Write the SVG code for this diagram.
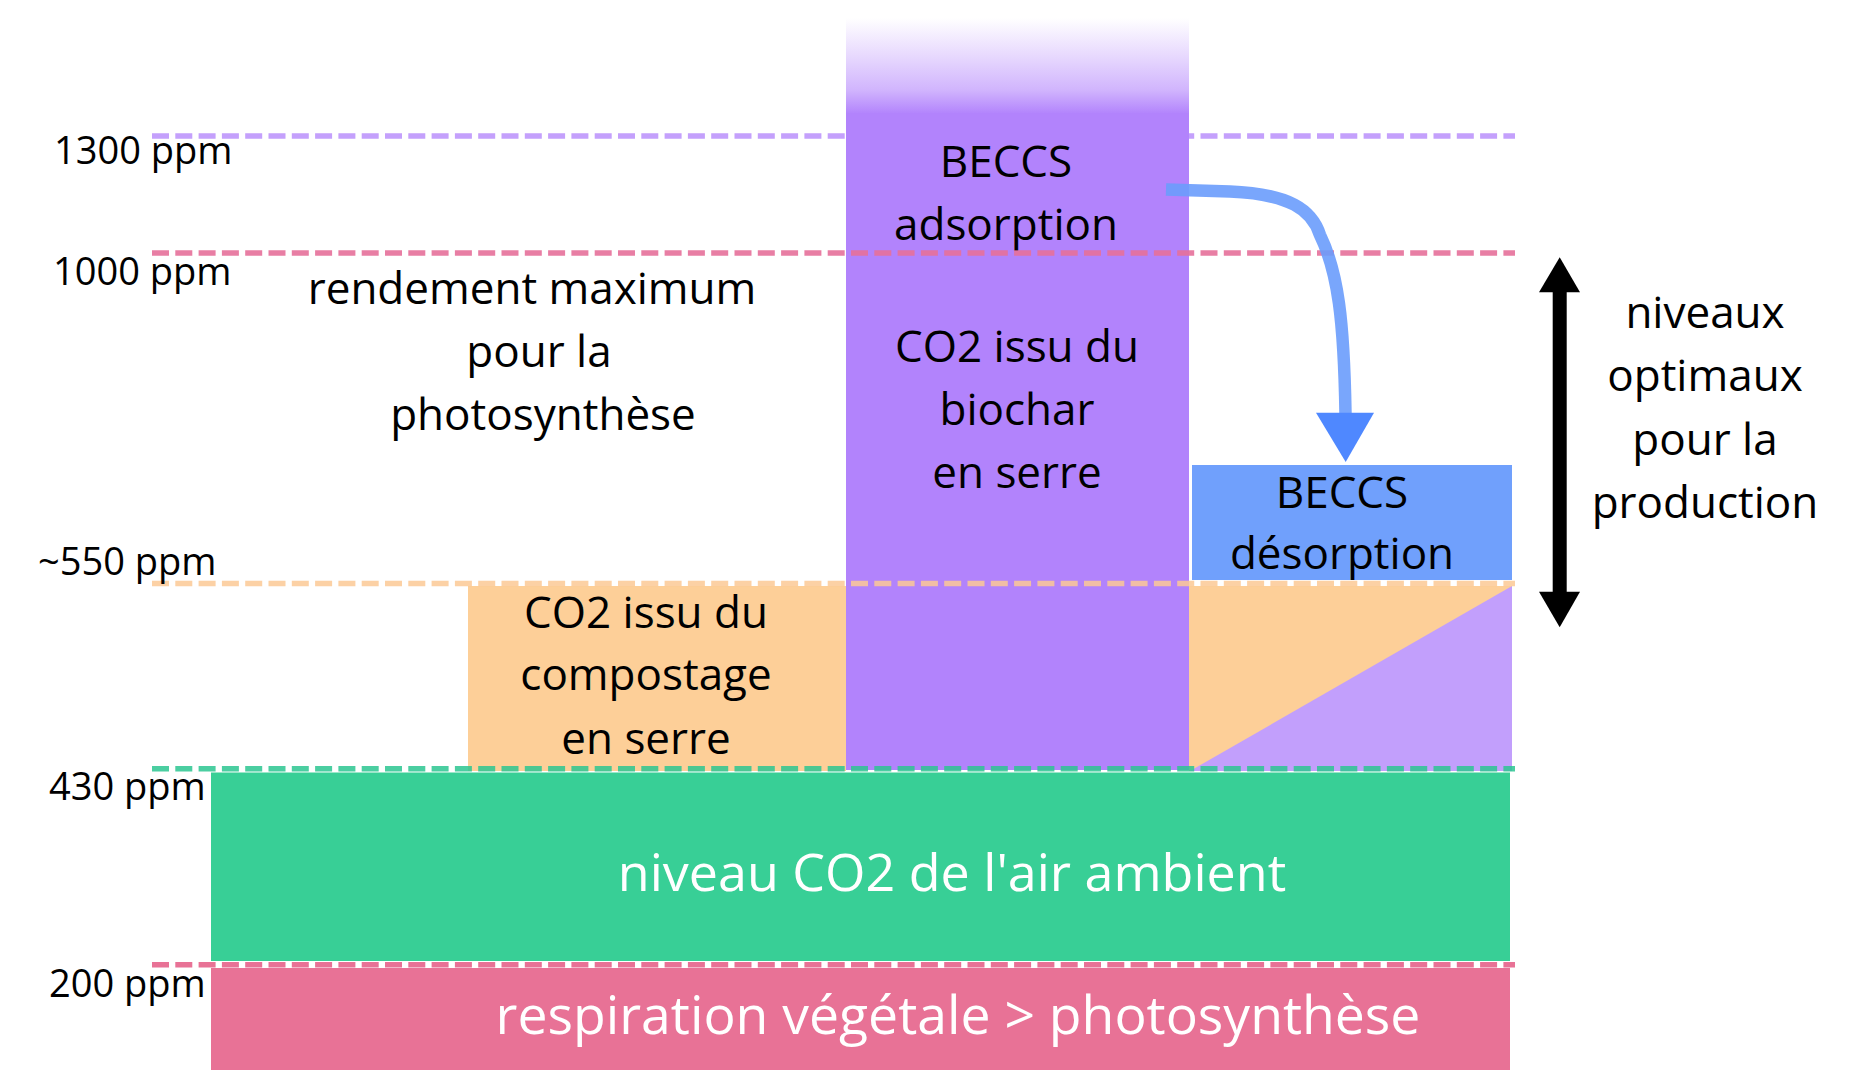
<svg xmlns="http://www.w3.org/2000/svg" width="1850" height="1075" viewBox="0 0 1850 1075">
<style>
text{font-family:"Open Sans","Noto Sans","Liberation Sans",sans-serif;fill:#000}
.lbl{font-size:38px}
.t{font-size:44px;text-anchor:middle}
.w{font-size:52px;text-anchor:middle;fill:#fff}
.dash{fill:none;stroke-width:5.5;stroke-dasharray:17 6.3}
</style>
<defs>
<linearGradient id="fade" x1="0" y1="0" x2="0" y2="1">
<stop offset="0" stop-color="#b283fc" stop-opacity="0"/>
<stop offset="0.45" stop-color="#b283fc" stop-opacity="0.35"/>
<stop offset="0.75" stop-color="#b283fc" stop-opacity="0.6"/>
<stop offset="1" stop-color="#b283fc" stop-opacity="1"/>
</linearGradient>
</defs>
<rect width="1850" height="1075" fill="#fff"/>

<line class="dash" x1="152" y1="136" x2="1515" y2="136" stroke="#c4a0fc"/>

<g id="biochar">
<rect x="846" y="18" width="343" height="96" fill="url(#fade)"/>
<rect x="846" y="113" width="343" height="657" fill="#b283fc"/>
<text class="t" x="1006" y="177">BECCS</text>
<text class="t" x="1006" y="240">adsorption</text>
<text class="t" x="1017" y="362">CO2 issu du</text>
<text class="t" x="1017" y="425">biochar</text>
<text class="t" x="1017" y="488">en serre</text>
</g>

<g id="compostage">
<rect x="468" y="586" width="378" height="185" fill="#fdcf98"/>
<text class="t" x="646" y="628">CO2 issu du</text>
<text class="t" x="646" y="690">compostage</text>
<text class="t" x="646" y="754">en serre</text>
</g>

<g id="desorption">
<rect x="1192" y="465" width="320" height="115" fill="#70a0fc"/>
<text class="t" x="1342" y="508">BECCS</text>
<text class="t" x="1342" y="569">désorption</text>
</g>

<g id="mix">
<rect x="1189" y="586" width="323" height="185" fill="#fdcf98"/>
<polygon points="1512,586 1512,771 1190,771" fill="#c29ffc"/>
</g>

<g id="ambient">
<rect x="211" y="772.5" width="1299" height="188.5" fill="#38cf96"/>
<text class="w" x="952" y="891">niveau CO2 de l'air ambient</text>
</g>

<g id="respiration">
<rect x="211" y="968" width="1299" height="102" fill="#e87296"/>
<text class="w" x="958" y="1034" style="font-size:53.5px">respiration végétale &gt; photosynthèse</text>
</g>

<g id="levels">
<line class="dash" x1="152" y1="253" x2="1515" y2="253" stroke="#e6709a" stroke-opacity="0.9"/>
<line class="dash" x1="152" y1="583.5" x2="1515" y2="583.5" stroke="#fcc995" stroke-opacity="0.85"/>
<line class="dash" x1="152" y1="768.7" x2="1515" y2="768.7" stroke="#2cc690" stroke-opacity="0.85"/>
<line class="dash" x1="152" y1="964.7" x2="1515" y2="964.7" stroke="#e87296"/>
<text class="lbl" x="54" y="164">1300 ppm</text>
<text class="lbl" x="53" y="285">1000 ppm</text>
<text class="lbl" x="38" y="575">~550 ppm</text>
<text class="lbl" x="49" y="800">430 ppm</text>
<text class="lbl" x="49" y="997">200 ppm</text>
</g>

<g id="rendement">
<text class="t" x="532" y="304">rendement maximum</text>
<text class="t" x="539" y="367">pour la</text>
<text class="t" x="543" y="430">photosynthèse</text>
</g>

<g id="niveaux-optimaux">
<text class="t" x="1705" y="328">niveaux</text>
<text class="t" x="1705" y="391">optimaux</text>
<text class="t" x="1705" y="455">pour la</text>
<text class="t" x="1705" y="518">production</text>
</g>

<g id="connectors">
<path d="M1166,189.5 L1230,191.5 C1290,194 1312,210 1320,235 C1338,272 1344,320 1345.5,414" fill="none" stroke="#6a9cfc" stroke-opacity="0.9" stroke-width="12.5"/>
<polygon points="1316,412.7 1374,412.7 1345.7,462" fill="#4f88ff"/>
<rect x="1552.7" y="290" width="14" height="304" fill="#000"/>
<polygon points="1559.7,257.3 1580,292.3 1539,292.3" fill="#000"/>
<polygon points="1559.7,627.3 1580,591.7 1539,591.7" fill="#000"/>
</g>
</svg>
